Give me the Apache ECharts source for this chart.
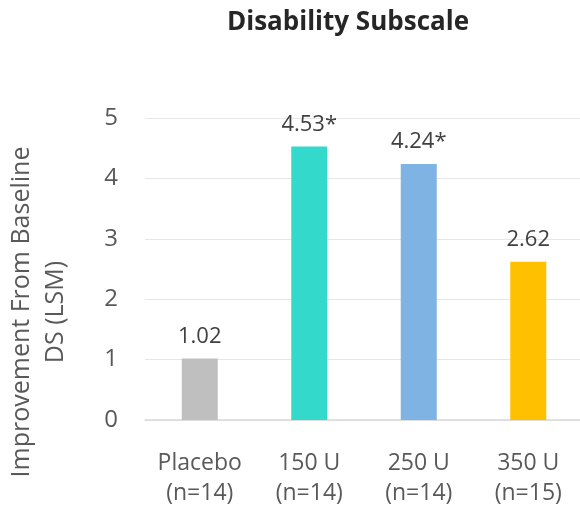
<!DOCTYPE html>
<html>
<head>
<meta charset="utf-8">
<script src="https://cdn.jsdelivr.net/npm/echarts@6/dist/echarts.min.js"></script>
<style>
  html, body { margin: 0; padding: 0; background: #fff; }
  #chart { width: 580px; height: 509px; }
</style>
</head>
<body>
<div id="chart"></div>
<script>
// Dose groups and least-squares mean improvement in the disability subscale
const categories = ['Placebo\n(n=14)', '150 U\n(n=14)', '250 U\n(n=14)', '350 U\n(n=15)'];
const values = [1.02, 4.53, 4.24, 2.62];
const significant = [false, true, true, false];
const barColors = ['#BFBFBF', '#33DACB', '#7FB3E3', '#FFC000'];
const yTicks = { min: 0, max: 5, interval: 1 };
const yAxisTitle = 'Improvement From Baseline\nDS (LSM)';

const chart = echarts.init(document.getElementById('chart'));
const FONT = '"Open Sans", "Noto Sans", sans-serif';

chart.setOption({
  animation: false,
  title: {
    text: 'Disability Subscale',
    left: 343,
    textAlign: 'center',
    top: 5,
    textStyle: { fontFamily: FONT, fontWeight: 'bold', fontSize: 26, color: '#262626' }
  },
  grid: { left: 145, right: -3, top: 118, bottom: 89, containLabel: false, outerBoundsMode: 'none' },
  xAxis: {
    type: 'category',
    data: categories,
    axisLine: { lineStyle: { color: '#D9D9D9', width: 1.5 } },
    axisTick: { show: false },
    axisLabel: {
      interval: 0,
      hideOverlap: false,
      fontFamily: FONT, fontSize: 23, color: '#595959', lineHeight: 30, margin: 28
    }
  },
  yAxis: {
    type: 'value',
    min: yTicks.min,
    max: yTicks.max,
    interval: yTicks.interval,
    axisLine: { show: false },
    axisTick: { show: false },
    splitLine: { lineStyle: { color: '#E6E6E6', width: 1 } },
    axisLabel: { fontFamily: FONT, fontSize: 24, color: '#595959', margin: 27 }
  },
  graphic: [{
    type: 'text',
    x: 39,
    y: 312,
    rotation: Math.PI / 2,
    style: {
      text: yAxisTitle,
      fontFamily: FONT,
      fontSize: 25,
      lineHeight: 34,
      fill: '#595959',
      align: 'center',
      verticalAlign: 'middle'
    }
  }],
  series: [{
    type: 'bar',
    barWidth: 36,
    data: values.map((v, i) => ({ value: v, itemStyle: { color: barColors[i] } })),
    label: {
      show: true,
      position: 'top',
      distance: 11,
      fontFamily: FONT,
      fontSize: 22,
      color: '#404040',
      formatter: p => values[p.dataIndex].toFixed(2) + (significant[p.dataIndex] ? '*' : '')
    }
  }]
});
</script>
</body>
</html>
